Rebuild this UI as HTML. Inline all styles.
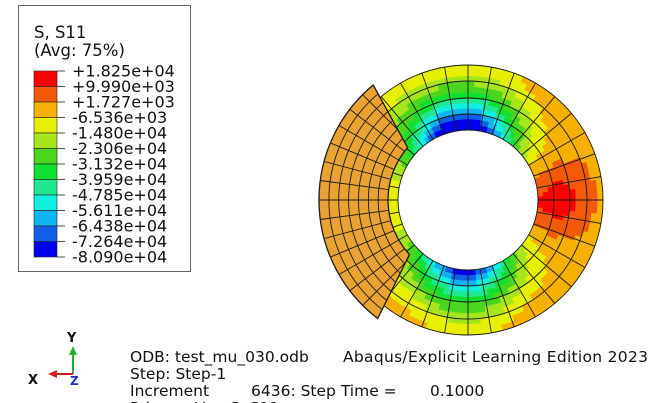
<!DOCTYPE html>
<html><head><meta charset="utf-8"><style>
html,body{margin:0;padding:0;background:#fff;}
svg{display:block;font-family:"DejaVu Sans","Liberation Sans",sans-serif;}
</style></head><body>
<svg id="fig" width="671" height="403" viewBox="0 0 671 403">
  <g>
    <rect x="18.5" y="5.5" width="172" height="266" fill="#fff" stroke="#666" stroke-width="1"/>
    <text x="34" y="38" font-size="16.5" fill="#111">S, S11</text>
    <text x="34" y="56" font-size="16.5" fill="#111">(Avg: 75%)</text>
    <g id="bar"></g>
  </g>
  <g id="model"></g>
  <g>
    <text x="67" y="342" font-size="13" font-weight="bold" fill="#111">Y</text>
    <line x1="73" y1="374" x2="73" y2="353" stroke="#20b030" stroke-width="2"/>
    <polygon points="73,346 69,355 77,355" fill="#20b030"/>
    <line x1="73" y1="374" x2="55" y2="374" stroke="#d02020" stroke-width="2"/>
    <polygon points="48,374 57,370 57,378" fill="#d02020"/>
    <text x="28" y="384" font-size="13" font-weight="bold" fill="#111">X</text>
    <text x="70" y="385" font-size="12" font-weight="bold" fill="#2030c0">Z</text>
  </g>
  <g font-size="15.5" fill="#111">
    <text x="130" y="362">ODB: test_mu_030.odb</text>
    <text x="343" y="362" textLength="305">Abaqus/Explicit Learning Edition 2023</text>
    <text x="130" y="379">Step: Step-1</text>
    <text x="130" y="396">Increment</text>
    <text x="251" y="396">6436: Step Time =</text>
    <text x="430" y="396">0.1000</text>
    <text x="130" y="413">Primary Var: S, S11</text>
  </g>
</svg>
<script>
const levels = [18250, 9990, 1727, -6536, -14800, -23060, -31320, -39590, -47850, -56110, -64380, -72640, -80900];
const levelLabels = ["+1.825e+04","+9.990e+03","+1.727e+03","-6.536e+03","-1.480e+04","-2.306e+04","-3.132e+04","-3.959e+04","-4.785e+04","-5.611e+04","-6.438e+04","-7.264e+04","-8.090e+04"];
const bandColors = ["#ff0000","#f25a0a","#f5b000","#e6f000","#a8e61c","#4ad61c","#10e030","#20e890","#10f0e0","#10b4f0","#1060e8","#0000f0"];
const NS="http://www.w3.org/2000/svg";
function mk(tag, attrs, parent){const e=document.createElementNS(NS,tag);for(const k in attrs)e.setAttribute(k,attrs[k]);parent.appendChild(e);return e;}

const bar=document.getElementById('bar');
const bx=34, by=71, bw=23, bh=186/12;
bandColors.forEach((c,i)=>{
  const r=mk('rect',{x:bx,y:by+i*bh,width:bw,height:bh,fill:c,stroke:'#222','stroke-width':0.6},bar);
  
  
});
levelLabels.forEach((t,i)=>{
  const y=by+i*bh;
  const l=mk('line',{x1:bx+bw,y1:y,x2:bx+bw+8,y2:y,stroke:'#222','stroke-width':0.8},bar);
  
  
  const tx=mk('text',{x:72,y:y+5.5,'font-size':16,fill:'#111'},bar);
  tx.textContent=t;
  
  
});

function colorFor(v){
  for(let i=0;i<12;i++){ if(v>=levels[i+1]) return bandColors[i]; }
  return bandColors[11];
}
function wrap(d){d=((d%360)+540)%360-180;return d;}
function g(t,c,w){const d=wrap(t-c);return Math.exp(-(d/w)*(d/w));}
function field(t,rho){
  let v=-10000;
  v+=8000*g(t,45,22)*rho;
  v+=8000*g(t,-55,22)*rho;
  v+=8000*g(t,235,20)*rho;
  v+=14000*g(t,0,48)*(1-0.4*rho)+14000*g(t,0,20)*(1-Math.abs(rho-0.35)*1.5);
  v-=88000*g(t,95,42)*Math.pow(1-rho,1.5);
  v-=70000*g(t,268,40)*Math.pow(1-rho,1.5);
  return v;
}

const m=document.getElementById('model');
const cx=468, cy=200, rIn=70, rOut=135;
function P(r,t){const a=t*Math.PI/180;return [cx+r*Math.cos(a), cy-r*Math.sin(a)];}
function sector(r1,r2,t1,t2){
  const a=P(r2,t1),b=P(r2,t2),c=P(r1,t2),d=P(r1,t1);
  return `M${a[0]},${a[1]} A${r2},${r2} 0 0 0 ${b[0]},${b[1]} L${c[0]},${c[1]} A${r1},${r1} 0 0 1 ${d[0]},${d[1]} Z`;
}
const ringG=mk('g',{},m);


const NR=12, NT=120;
for(let i=0;i<NR;i++){
  const r1=rIn+(rOut-rIn)*i/NR, r2=rIn+(rOut-rIn)*(i+1)/NR;
  for(let j=0;j<NT;j++){
    const t1=j*360/NT, t2=(j+1)*360/NT+0.4;
    const v=field((t1+t2)/2,(i+0.5)/NR);
    const c=colorFor(v);
    mk('path',{d:sector(r1,r2,t1,t2),fill:c,stroke:c,'stroke-width':0.4},ringG);
  }
}
const meshG=mk('g',{fill:'none',stroke:'#1a1a1a','stroke-width':0.9},ringG);
[70,86,102,119,135].forEach(r=>mk('circle',{cx:cx,cy:cy,r:r},meshG));
for(let t=0;t<360;t+=10){const a=P(rIn,t),b=P(rOut,t);mk('line',{x1:a[0],y1:a[1],x2:b[0],y2:b[1]},meshG);}

const pg=mk('g',{},m);


const R2=149,R1=80;
const o1=P(R2,129.5),o2=P(R2,232.7),i2=P(R1,223),i1=P(R1,139);
const pd=`M${o1[0]},${o1[1]} A${R2},${R2} 0 0 0 ${o2[0]},${o2[1]} L${i2[0]},${i2[1]} A${R1},${R1} 0 0 1 ${i1[0]},${i1[1]} Z`;
const defs=mk('defs',{},document.getElementById('fig'));
const cp=mk('clipPath',{id:'pc'},defs);
mk('path',{d:pd},cp);
mk('path',{d:pd,fill:'#eaa233'},pg);
const pm=mk('g',{fill:'none',stroke:'#1a1a1a','stroke-width':0.9,'clip-path':'url(#pc)'},pg);
for(let k=1;k<7;k++){mk('circle',{cx:cx,cy:cy,r:R1+(R2-R1)*k/7},pm);}
for(let t=120;t<=245;t+=7.5){const a=P(60,t),b=P(170,t);mk('line',{x1:a[0],y1:a[1],x2:b[0],y2:b[1]},pm);}
mk('path',{d:pd,fill:'none',stroke:'#1a1a1a','stroke-width':1.3},pg);
</script>
</body></html>
